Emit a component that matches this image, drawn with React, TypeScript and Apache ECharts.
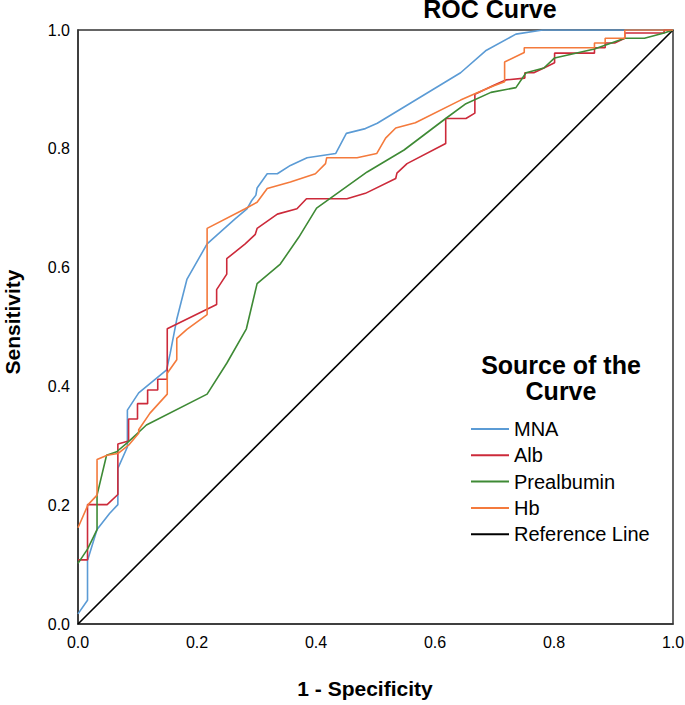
import React, { useEffect, useRef } from "react";
import * as echarts from "echarts";

const seriesNames = ["MNA", "Alb", "Prealbumin", "Hb", "Reference Line"];
const seriesColors = ["#5b9bd5", "#cc2a3a", "#3e8a35", "#f47a3c", "#000000"];
const tickValues = [0, 0.2, 0.4, 0.6, 0.8, 1.0];

const mnaPoints = [
  [0, 0.017], [0.016, 0.04], [0.016, 0.107], [0.032, 0.159], [0.053, 0.186], [0.067, 0.201],
  [0.067, 0.262], [0.083, 0.298], [0.083, 0.36], [0.102, 0.389], [0.149, 0.428], [0.155, 0.456],
  [0.166, 0.513], [0.183, 0.58], [0.217, 0.64], [0.264, 0.682], [0.284, 0.699], [0.292, 0.713],
  [0.299, 0.722], [0.301, 0.734], [0.318, 0.758], [0.335, 0.758], [0.357, 0.772], [0.385, 0.785],
  [0.433, 0.792], [0.451, 0.826], [0.483, 0.834], [0.503, 0.843], [0.643, 0.928], [0.685, 0.965],
  [0.736, 0.993], [0.781, 1.0], [1, 1],
];

const albPoints = [
  [0, 0.108], [0.016, 0.108], [0.016, 0.201], [0.049, 0.201], [0.067, 0.218], [0.067, 0.303],
  [0.085, 0.308], [0.085, 0.345], [0.1, 0.345], [0.1, 0.371], [0.117, 0.371], [0.117, 0.394],
  [0.134, 0.394], [0.134, 0.412], [0.15, 0.412], [0.15, 0.497], [0.233, 0.538], [0.233, 0.563],
  [0.25, 0.589], [0.25, 0.615], [0.281, 0.64], [0.298, 0.656], [0.301, 0.666], [0.335, 0.69],
  [0.368, 0.699], [0.384, 0.716], [0.452, 0.716], [0.483, 0.725], [0.534, 0.75], [0.536, 0.759],
  [0.553, 0.775], [0.618, 0.809], [0.618, 0.851], [0.652, 0.851], [0.667, 0.86], [0.667, 0.892],
  [0.699, 0.907], [0.719, 0.916], [0.751, 0.919], [0.751, 0.928], [0.766, 0.928], [0.783, 0.936],
  [0.801, 0.945], [0.801, 0.961], [0.868, 0.961], [0.868, 0.97], [0.886, 0.97], [0.886, 0.978],
  [0.902, 0.978], [0.919, 0.986], [0.919, 0.995], [0.985, 0.995], [0.985, 1.0], [1, 1],
];

const prealbuminPoints = [
  [0, 0.102], [0.016, 0.126], [0.032, 0.159], [0.032, 0.217], [0.048, 0.284], [0.065, 0.29],
  [0.085, 0.307], [0.115, 0.335], [0.217, 0.387], [0.25, 0.439], [0.283, 0.497], [0.301, 0.573],
  [0.34, 0.606], [0.371, 0.651], [0.401, 0.7], [0.486, 0.761], [0.548, 0.798], [0.618, 0.851],
  [0.652, 0.876], [0.694, 0.895], [0.736, 0.903], [0.753, 0.928], [0.783, 0.936], [0.801, 0.953],
  [0.868, 0.968], [0.919, 0.986], [0.952, 0.986], [0.985, 0.995], [1, 1],
];

const hbPoints = [
  [0, 0.162], [0.017, 0.201], [0.032, 0.217], [0.032, 0.277], [0.049, 0.284], [0.067, 0.287],
  [0.085, 0.301], [0.102, 0.321], [0.102, 0.327], [0.121, 0.355], [0.15, 0.387], [0.15, 0.422],
  [0.166, 0.445], [0.166, 0.481], [0.183, 0.496], [0.217, 0.521], [0.217, 0.666], [0.281, 0.699],
  [0.301, 0.71], [0.318, 0.733], [0.357, 0.744], [0.399, 0.758], [0.416, 0.775], [0.418, 0.785],
  [0.469, 0.785], [0.502, 0.792], [0.517, 0.818], [0.534, 0.835], [0.567, 0.844], [0.643, 0.882],
  [0.668, 0.893], [0.699, 0.906], [0.717, 0.913], [0.717, 0.946], [0.75, 0.962], [0.75, 0.97],
  [0.868, 0.97], [0.868, 0.978], [0.886, 0.978], [0.886, 0.986], [0.919, 0.986], [0.919, 1.0],
  [1, 1],
];

const referencePoints = [
  [0, 0], [1, 1],
];

const FONT = "'Liberation Sans', Arial, sans-serif";

export default function App() {
  const ref = useRef<HTMLDivElement>(null);
  useEffect(() => {
    if (!ref.current) return;
    const chart = echarts.init(ref.current, null, { renderer: "svg" });
    const allData = [mnaPoints, albPoints, prealbuminPoints, hbPoints, referencePoints];
    const axisCommon = {
      type: "value" as const,
      min: 0,
      max: 1,
      interval: 0.2,
      axisTick: { show: false },
      splitLine: { show: false },
      axisLine: { show: true, lineStyle: { color: "#333", width: 1.5 } },
      axisLabel: {
        color: "#000",
        fontSize: 16,
        fontFamily: FONT,
        formatter: (v: number) => (tickValues.includes(Math.round(v * 10) / 10) ? v.toFixed(1) : ""),
      },
    };
    chart.setOption({
      animation: false,
      backgroundColor: "#fff",
      textStyle: { fontFamily: FONT },
      grid: {
        left: 78, top: 30, width: 595, height: 594,
        outerBoundsMode: "none",
        containLabel: false,
        show: true, borderColor: "#333", borderWidth: 1.5, backgroundColor: "transparent",
      },
      xAxis: {
        ...axisCommon,
        axisLabel: { ...axisCommon.axisLabel, margin: 10 },
      },
      yAxis: {
        ...axisCommon,
        axisLabel: { ...axisCommon.axisLabel, margin: 8 },
      },
      legend: {
        orient: "vertical",
        left: 471,
        top: 419,
        padding: 0,
        icon: "rect",
        itemWidth: 38,
        itemHeight: 2,
        itemGap: 6.3,
        data: seriesNames,
        textStyle: { color: "#000", fontSize: 20, fontFamily: FONT, lineHeight: 20, padding: [0, 0, 0, 0] },
        selectedMode: false,
      },
      graphic: [
        {
          type: "text",
          x: 490, y: 9,
          style: {
            text: "ROC Curve", fill: "#000", font: `bold 25px ${FONT}`,
            textAlign: "center", textVerticalAlign: "middle",
          },
        },
        {
          type: "text",
          x: 561, y: 365,
          style: {
            text: "Source of the", fill: "#000", font: `bold 25px ${FONT}`,
            textAlign: "center", textVerticalAlign: "middle",
          },
        },
        {
          type: "text",
          x: 561, y: 391,
          style: {
            text: "Curve", fill: "#000", font: `bold 25px ${FONT}`,
            textAlign: "center", textVerticalAlign: "middle",
          },
        },
        {
          type: "text",
          x: 365, y: 688,
          style: {
            text: "1 - Specificity", fill: "#000", font: `bold 21px ${FONT}`,
            textAlign: "center", textVerticalAlign: "middle",
          },
        },
        {
          type: "text",
          x: 12, y: 322,
          rotation: Math.PI / 2,
          style: {
            text: "Sensitivity", fill: "#000", font: `bold 21px ${FONT}`,
            textAlign: "center", textVerticalAlign: "middle",
          },
        },
      ],
      series: seriesNames.map((name, i) => ({
        name,
        type: "line",
        data: allData[i],
        symbol: "none",
        color: seriesColors[i],
        lineStyle: { color: seriesColors[i], width: 1.6 },
        z: i === 4 ? 1 : 2 + i,
      })),
    });
    return () => chart.dispose();
  }, []);
  return (
    <div
      ref={ref}
      style={{ position: "fixed", left: 0, top: 0, width: 685, height: 705, background: "#fff" }}
    />
  );
}
